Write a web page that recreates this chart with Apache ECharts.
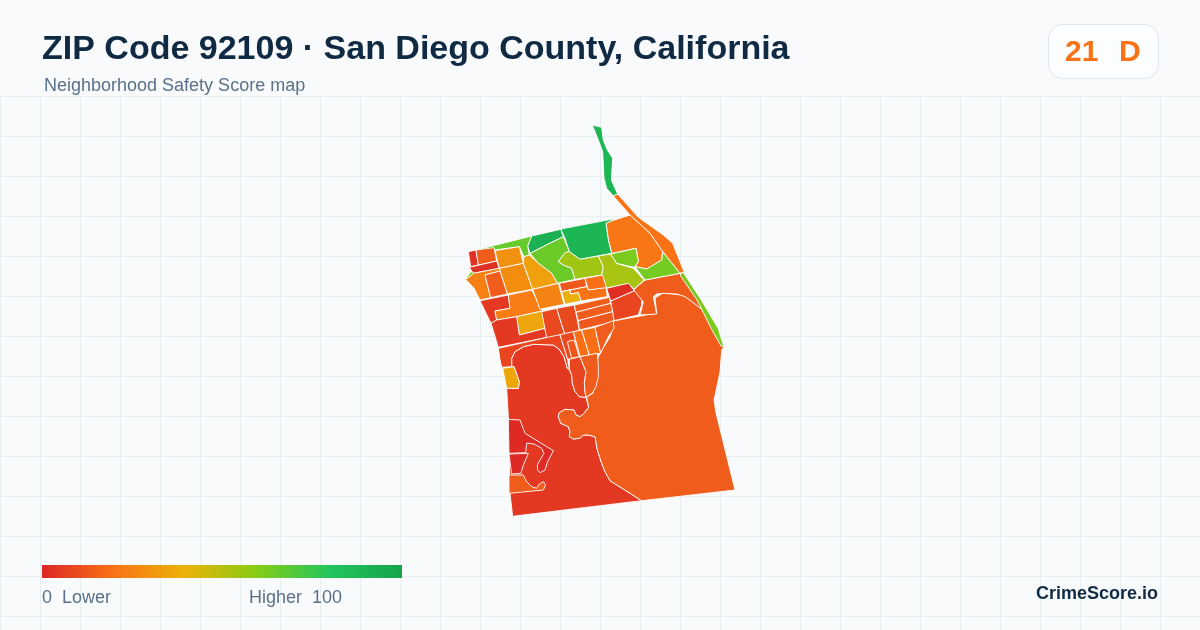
<!DOCTYPE html>
<html><head><meta charset="utf-8">
<style>html,body{margin:0;padding:0;background:#f8fafc}#c{width:1200px;height:630px}</style>
<script src="https://cdn.jsdelivr.net/npm/echarts@6/dist/echarts.min.js"></script>
</head><body><div id="c"></div>
<script>
var titleText = "ZIP Code 92109 · San Diego County, California";
var subtitleText = "Neighborhood Safety Score map";
var overallScore = "21";
var overallGrade = "D";
var legendLow = "0  Lower";
var legendHigh = "Higher  100";
var brandText = "CrimeScore.io";
var scaleMin = 0, scaleMax = 100;
var scaleColors = ["#dc2626","#f97316","#eab308","#84cc16","#22c55e","#16a34a"];

var regionNames = ["U","BigOrange","Z","S1","Red1","NStrip","OStrip","Block","GreenBlock","GreenSmall","LimeTop","LimeLeft","Lime2","YG3","YG4","Lime5","Lime6","EStrip","A","B","C","D","E","F","G","G2","H","I","J","K","L","M","N","P","O","Q","R","S2","S3","S4","V","W","Cg","Ch","Cb","Cc","Cd","X","Y","R1","R2","R3"];
var regionScores = [5,14,14,8,2,89,20,21,89,92,66,64,65,55,53,62,63,62,3,14,3,29,28,34,24,14,5,23,36,5,25,13,19,20,39,9,9,14,14,13,8,36,9,13,19,19,14,8,14,1,1,14];
// outline of each region: frame letter, then x,y pairs in that frame
var regionRings = [
["b",65,140,65,115,75,95,100,80,130,73,190,75,208,88,222,110,232,145,238,148,245,165,247,190,255,215,268,230,288,232,296,262,282,280,270,290,258,285,252,270,225,268,208,278,205,290,212,310,235,320,240,335,238,350,250,357,270,355,280,345,295,345,315,350,322,390,335,430,345,455,360,482,455,542,75,588,68,590,60,520,55,290,50,205,85,205,88,185,72,140],
["p",613,321,656.7,313,655,298,663,293,683,295,703,310,718,328,724,347,721.7,350,720,372,714,400,716,413,735,490,641.7,500.7,610,480.7,605,471.7,601.7,463.3,597.3,450,595,436.7,588.3,435,583.3,435,580,438.3,573.3,439,569.3,436.7,570,431.7,568.3,426.7,560.7,423.3,558.3,416.7,559.3,412.7,565,409.3,574,410,576,415,580,416.7,584,413.3,588.7,407.3,586.7,397,593,393,597,373,596,363,600,353,610,337,613,328],
["a",552,508,585,480,690,460,745,540,805,628,760,572,730,548,705,530,680,522,640,520,620,522,610,530,620,582,570,585,580,545,555,525],
["e",212,63,283,32,305,60,305,75,295,105,222,122],
["e",200,25,265,8,283,32,212,63],
["a",427,15,455,22,460,60,472,90,488,115,484,180,503,222,490,228,470,205,462,175,458,95,445,60],
["a",490,228,503,222,565,292,640,345,668,370,702,455,690,460,638,395,600,340,540,285],
["a",468,308,540,285,600,340,638,395,635,420,590,447,555,440,565,425,558,385,485,400,475,360],
["a",332,327,500,295,468,310,475,360,485,400,390,418,358,395,345,355],
["a",245,348,332,328,340,350,295,372,240,400,233,378],
["a",78,390,245,348,233,378,238,405,222,410,208,380,135,390],
["a",47,478,62,455,78,460,62,468],
["a",240,400,295,372,340,350,358,395,345,398,325,425,340,435,365,445,375,478,322,490,305,460,265,430],
["a",345,398,358,395,390,418,445,408,460,440,455,465,375,478,365,445,340,435,325,425],
["a",445,408,482,402,500,430,550,445,582,480,552,508,535,490,465,505,455,465,460,440],
["a",482,402,558,385,565,425,552,442,500,430],
["a",555,440,590,447,635,420,638,395,690,460,585,480],
["p",683,272,700,298,718,328,724,347,721,346,712,330,697,300,680,275],
["a",55,395,78,390,85,435,62,440],
["a",78,390,132,383,140,423,85,435],
["a",58,442,140,423,148,445,70,460],
["a",135,392,208,380,220,430,148,445],
["a",148,445,220,430,248,508,172,522,150,453],
["a",222,410,238,405,265,430,305,460,322,490,248,508,220,430],
["a",47,478,62,468,70,460,148,445,150,453,105,465,122,533,90,540,72,505],
["a",105,465,150,453,172,522,122,533],
["c",60,182,145,165,150,205,105,213,110,240,93,250],
["c",145,165,215,150,248,213,170,230,110,240,105,213,150,205],
["c",170,230,248,213,255,265,178,285],
["c",93,250,110,240,170,230,178,285,255,265,262,292,115,322],
["a",248,508,325,490,342,553,270,568],
["a",328,490,405,475,410,500,335,515],
["a",405,475,458,465,470,505,415,510],
["a",335,515,410,500,415,510,468,503,472,530,393,543,385,518,362,522,360,510],
["a",335,515,360,510,362,522,385,518,393,543,345,553],
["e",5,95,50,85,75,165,20,175],
["e",50,85,103,75,118,150,75,165],
["e",103,75,208,52,212,70,108,97],
["e",108,97,212,70,218,95,115,122],
["e",115,122,218,95,222,125,118,150],
["b",25,85,172,52,210,44,232,115,238,148,232,145,222,110,208,88,190,75,130,73,100,80,75,95,65,115,65,140,35,142,30,120],
["b",38,145,72,140,88,185,85,205,50,205],
["b",210,44,250,35,268,110,238,118,232,115],
["b",232,65,252,60,268,110,245,115],
["b",250,35,275,30,298,105,270,110],
["b",275,30,315,22,332,100,298,105],
["b",315,22,370,2,372,25,355,50,332,100],
["b",238,118,270,110,288,155,283,190,285,215,288,232,268,230,255,215,247,190,245,165,238,148],
["b",270,110,322,100,325,135,325,170,318,200,308,218,288,232,285,215,283,190,288,155],
["f",40,28,75,30,90,70,175,122,158,155,150,180,135,188,128,180,127,165,135,150,147,130,140,115,120,103,105,100,95,100,92,128,42,130],
["f",42,132,100,130,85,165,78,190,50,192],
["f",42,195,85,195,95,215,110,230,125,235,133,222,145,215,152,225,145,240,42,250]
];
var frames = {a:[450,120,3], b:[490,320,3], c:[460,240,3], e:[540,280,3], f:[495,410,3], p:[0,0,1]};

function toRing(r){
  var f = frames[r[0]], out = [];
  for (var i = 1; i < r.length; i += 2) out.push([f[0] + r[i]/f[2], 630 - (f[1] + r[i+1]/f[2])]);
  out.push(out[0].slice());
  return out;
}
var rings = regionRings.map(toRing);
var minX=1e9,maxX=-1e9,minY=1e9,maxY=-1e9;
rings.forEach(function(r){r.forEach(function(p){minX=Math.min(minX,p[0]);maxX=Math.max(maxX,p[0]);minY=Math.min(minY,p[1]);maxY=Math.max(maxY,p[1]);});});
var geoJson = {type:"FeatureCollection",features:rings.map(function(r,i){
  return {type:"Feature",properties:{name:regionNames[i]},geometry:{type:"Polygon",coordinates:[r]}};
})};
echarts.registerMap("zip92109", geoJson);

var FONT = '"Liberation Sans", Arial, sans-serif';
var graphics = [
  {type:"rect",shape:{x:0,y:0,width:1200,height:630},style:{fill:"#f8fafc"},silent:true,z:-10}
];
var GRID = "#e6eef2";
for (var gx = 0; gx <= 1200; gx += 40) graphics.push({type:"line",shape:{x1:gx+0.5,y1:96,x2:gx+0.5,y2:630},style:{stroke:GRID,lineWidth:1},silent:true,z:-9});
for (var gy = 96; gy <= 630; gy += 40) graphics.push({type:"line",shape:{x1:0,y1:gy+0.5,x2:1200,y2:gy+0.5},style:{stroke:GRID,lineWidth:1},silent:true,z:-9});
var stops = scaleColors.map(function(c,i){return {offset:i/(scaleColors.length-1),color:c};});
graphics.push(
  {type:"text",x:42,y:49.5,style:{text:titleText,font:'bold 34px '+FONT,fill:"#102a43",textVerticalAlign:"middle"}},
  {type:"text",x:44,y:86,style:{text:subtitleText,font:'18px '+FONT,fill:"#5b7089",textVerticalAlign:"middle"}},
  {type:"rect",shape:{x:1048.5,y:24.5,width:110,height:54,r:14},style:{fill:"#fcfdfe",stroke:"#dde5ed",lineWidth:1}},
  {type:"text",x:1065,y:52.5,style:{text:overallScore,font:'bold 30px '+FONT,fill:"#f97316",textVerticalAlign:"middle"}},
  {type:"text",x:1119,y:52.5,style:{text:overallGrade,font:'bold 30px '+FONT,fill:"#f97316",textVerticalAlign:"middle"}},
  {type:"rect",shape:{x:42,y:565,width:360,height:13},style:{fill:new echarts.graphic.LinearGradient(0,0,1,0,stops)}},
  {type:"text",x:42,y:598,style:{text:legendLow,font:'18px '+FONT,fill:"#5b7089",textVerticalAlign:"middle"}},
  {type:"text",x:249,y:598,style:{text:legendHigh,font:'18px '+FONT,fill:"#5b7089",textVerticalAlign:"middle"}},
  {type:"text",x:1158,y:594,style:{text:brandText,font:'bold 18px '+FONT,fill:"#102a43",textAlign:"right",textVerticalAlign:"middle"}}
);

var chart = echarts.init(document.getElementById("c"), null, {renderer:"canvas"});
chart.setOption({
  animation:false,
  backgroundColor:"#f8fafc",
  graphic:{elements:graphics},
  visualMap:{
    type:"continuous",show:false,min:scaleMin,max:scaleMax,
    inRange:{color:scaleColors},seriesIndex:0
  },
  series:[{
    type:"map",map:"zip92109",aspectScale:1,roam:false,silent:true,
    left:minX,top:630-maxY,width:maxX-minX,height:maxY-minY,
    label:{show:false},emphasis:{disabled:true},select:{disabled:true},
    itemStyle:{borderColor:"#ffffff",borderWidth:0.9},
    data:regionNames.map(function(n,i){return {name:n,value:regionScores[i]};})
  }]
});
</script></body></html>
